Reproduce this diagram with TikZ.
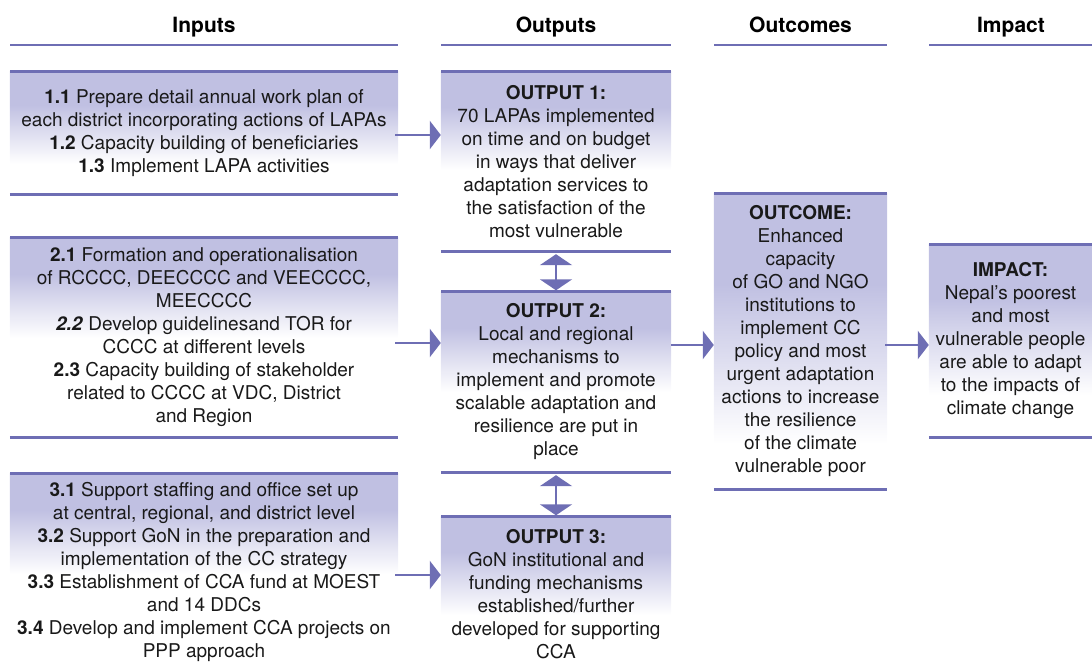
\documentclass[tikz,border=0pt]{standalone}
\usepackage{fontspec}
\setmainfont{TeX Gyre Heros}
\usetikzlibrary{arrows.meta,calc,backgrounds}
\definecolor{rulec}{RGB}{110,110,180}
\definecolor{boxc}{RGB}{192,192,226}
\definecolor{txtc}{RGB}{25,25,25}
\pgfdeclareverticalshading{boxfade}{100bp}{color(0bp)=(white); color(25bp)=(white); color(57bp)=(boxc); color(100bp)=(boxc)}
\begin{document}
\begin{tikzpicture}[x=1pt,y=-1pt,
  txt/.style={font=\fontsize{19}{23}\selectfont, align=center, inner sep=0pt, text=txtc},
  head/.style={font=\fontsize{21}{25}\selectfont\bfseries, inner sep=0pt, anchor=base},
  rule/.style={draw=rulec, line width=2.8pt},
  arr/.style={draw=rulec, line width=2.6pt, -{Triangle[width=28pt,length=11pt]}},
  darr/.style={draw=rulec, line width=2.6pt, {Triangle[width=32pt,length=11pt]}-{Triangle[width=32pt,length=11pt]}},
  fade/.style={shading=boxfade}
]
\useasboundingbox (0,0) rectangle (1092,666);

% headers
\node[head] (hIn) at (204,33) {Inputs};
\node[head] (hOut) at (556,33) {Outputs};
\node[head] (hOutc) at (800.5,33) {Outcomes};
\node[head] (hImp) at (1011,33) {Impact};
\draw[rule] (10,45) -- (398,45);
\draw[rule] (441,45) -- (671,45);
\draw[rule] (714,45) -- (887,45);
\draw[rule] (929,45) -- (1092,45);

% input boxes
\node[txt, minimum width=388pt, minimum height=122pt] (in1) at (204,133)
 {\textbf{1.1} Prepare detail annual work plan of\\each district incorporating actions of LAPAs\\\textbf{1.2} Capacity building of beneficiaries\\\textbf{1.3} Implement LAPA activities};
\node[txt, minimum width=388pt, minimum height=199pt] (in2) at (204,337.5)
 {\textbf{2.1} Formation and operationalisation\\of RCCCC, DEECCCC and VEECCCC,\\MEECCCC\\\textbf{\textit{2.2}} Develop guidelinesand TOR for\\CCCC at different levels\\\textbf{2.3} Capacity building of stakeholder\\related to CCCC at VDC, District\\and Region};
\node[txt, minimum width=388pt, minimum height=195pt] (in3) at (204,571.5)
 {\textbf{3.1} Support staffing and office set up\\at central, regional, and district level\\\textbf{3.2} Support GoN in the preparation and\\implementation of the CC strategy\\\textbf{3.3} Establishment of CCA fund at MOEST\\and 14 DDCs\\\textbf{3.4} Develop and implement CCA projects on\\PPP approach};

% output boxes
\node[txt, minimum width=230pt, minimum height=179pt] (out1) at (556,161.5)
 {\textbf{OUTPUT 1:}\\70 LAPAs implemented\\on time and on budget\\in ways that deliver\\adaptation services to\\the satisfaction of the\\most vulnerable};
\node[txt, minimum width=230pt, minimum height=180pt] (out2) at (556,382)
 {\textbf{OUTPUT 2:}\\Local and regional\\mechanisms to\\implement and promote\\scalable adaptation and\\resilience are put in\\place};
\node[txt, minimum width=230pt, minimum height=154pt] (out3) at (556,594)
 {\textbf{OUTPUT 3:}\\GoN institutional and\\funding mechanisms\\established/further\\developed for supporting\\CCA};

% outcome and impact
\node[txt, minimum width=173pt, minimum height=295pt] (outc) at (800.5,341.5)
 {\textbf{OUTCOME:}\\Enhanced\\capacity\\of GO and NGO\\institutions to\\implement CC\\policy and most\\urgent adaptation\\actions to increase\\the resilience\\of the climate\\vulnerable poor};
\node[txt, minimum width=163pt, minimum height=192pt] (imp) at (1010.5,341)
 {\textbf{IMPACT:}\\Nepal’s poorest\\and most\\vulnerable people\\are able to adapt\\to the impacts of\\climate change};

% shading
\begin{scope}[on background layer]
\shade[fade] (in1.north west) rectangle ($(in1.north east)+(0,92)$);
\shade[fade] (in2.north west) rectangle ($(in2.north east)+(0,100)$);
\shade[fade] (in3.north west) rectangle ($(in3.north east)+(0,100)$);
\shade[fade] (out1.north west) rectangle ($(out1.north east)+(0,98)$);
\shade[fade] (out2.north west) rectangle ($(out2.north east)+(0,100)$);
\shade[fade] (out3.north west) rectangle ($(out3.north east)+(0,98)$);
\shade[fade] (outc.north west) rectangle ($(outc.north east)+(0,250)$);
\shade[fade] (imp.north west) rectangle ($(imp.north east)+(0,150)$);
\end{scope}

% box rules
\draw[rule] (in1.north west) -- (in1.north east);
\draw[rule] (in1.south west) -- (in1.south east);
\draw[rule] (in2.north west) -- (in2.north east);
\draw[rule] (in2.south west) -- (in2.south east);
\draw[rule] (in3.north west) -- (in3.north east);
\draw[rule] (out1.north west) -- (out1.north east);
\draw[rule] (out1.south west) -- (out1.south east);
\draw[rule] (out2.north west) -- (out2.north east);
\draw[rule] (out2.south west) -- (out2.south east);
\draw[rule] (out3.north west) -- (out3.north east);
\draw[rule] (outc.north west) -- (outc.north east);
\draw[rule] (outc.south west) -- (outc.south east);
\draw[rule] (imp.north west) -- (imp.north east);
\draw[rule] (imp.south west) -- (imp.south east);

% connectors
\coordinate (a1) at ($(in1.east)+(-3,2)$);
\coordinate (a2) at ($(in2.east)+(-3,5.5)$);
\coordinate (a3) at ($(in3.east)+(-3,3.5)$);
\coordinate (a4) at ($(outc.west)+(0,3.5)$);
\coordinate (a5) at ($(outc.east)+(-2,3.5)$);
\draw[arr] (a1) -- (a1 -| out1.west);
\draw[arr] (a2) -- (a2 -| out2.west);
\draw[arr] (a3) -- (a3 -| out3.west);
\draw[arr] (a4 -| out2.east) -- (a4);
\draw[arr] (a5) -- (a5 -| imp.west);
\draw[darr, shorten <=3pt, shorten >=1.5pt] (out1.south) -- (out2.north);
\draw[darr, shorten <=3pt, shorten >=1.5pt] (out2.south) -- (out3.north);
\end{tikzpicture}
\end{document}
